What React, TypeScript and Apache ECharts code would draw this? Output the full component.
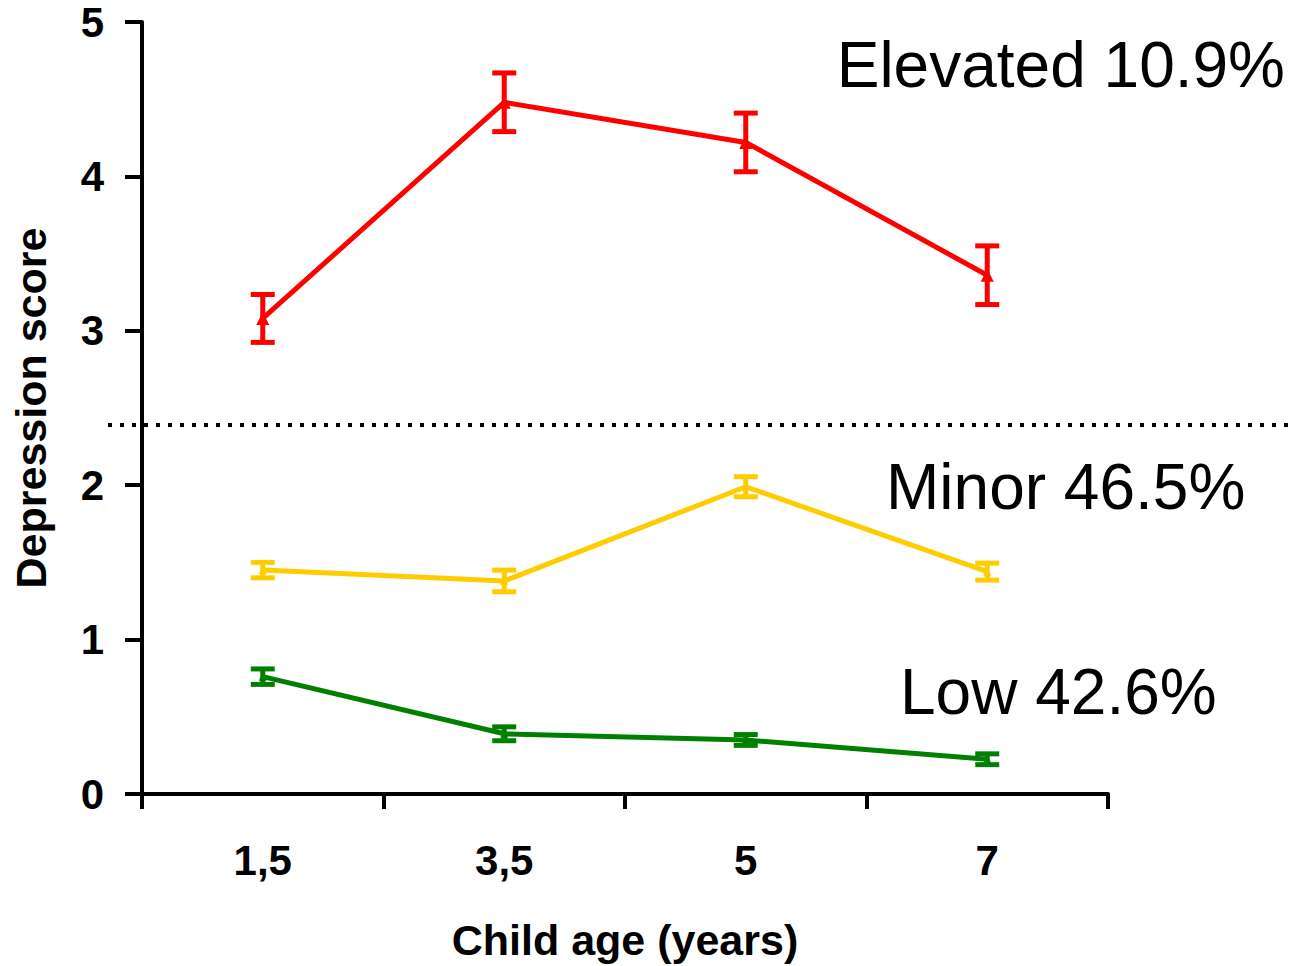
import React, { useEffect, useRef } from "react";
import * as echarts from "echarts";

const ages = ["1,5", "3,5", "5", "7"];
const elevated = [3.08, 4.48, 4.22, 3.36];
const elevatedErr = [0.155, 0.19, 0.19, 0.19];
const minor = [1.45, 1.38, 1.99, 1.44];
const minorErr = [0.05, 0.07, 0.065, 0.055];
const low = [0.76, 0.39, 0.35, 0.225];
const lowErr = [0.05, 0.045, 0.035, 0.035];
const cutoff = 2.39;
const yTicks = [0, 1, 2, 3, 4, 5];

const RED = "#ff0000";
const YELLOW = "#ffcc00";
const GREEN = "#008000";
const FONT = "Liberation Sans, Arial, sans-serif";

function errSeries(vals: number[], errs: number[], color: string) {
  return {
    type: "custom",
    z: 5,
    data: vals.map((v, i) => [i, v - errs[i], v + errs[i]]),
    renderItem: (params: any, api: any) => {
      const x = api.value(0);
      const lo = api.coord([x, api.value(1)]);
      const hi = api.coord([x, api.value(2)]);
      const hw = 12;
      const style = { stroke: color, lineWidth: 5 };
      return {
        type: "group",
        children: [
          { type: "line", shape: { x1: lo[0], y1: lo[1], x2: hi[0], y2: hi[1] }, style },
          { type: "line", shape: { x1: lo[0] - hw, y1: lo[1], x2: lo[0] + hw, y2: lo[1] }, style },
          { type: "line", shape: { x1: hi[0] - hw, y1: hi[1], x2: hi[0] + hw, y2: hi[1] }, style },
        ],
      };
    },
  };
}

function lineSeries(vals: number[], color: string, size: number) {
  return {
    type: "line",
    data: vals,
    symbol: "triangle",
    symbolSize: size,
    lineStyle: { color, width: 5 },
    itemStyle: { color },
    z: 4,
  };
}

export default function App() {
  const ref = useRef<HTMLDivElement>(null);
  useEffect(() => {
    document.body.style.margin = "0";
    const chart = echarts.init(ref.current!, null, { renderer: "svg" });
    const labelStyle = { fontFamily: FONT, fontWeight: "bold", fontSize: 42, color: "#000" };
    const option: any = {
      animation: false,
      grid: { left: 142, top: 22, right: 187, bottom: 171, containLabel: false },
      xAxis: {
        type: "category",
        data: ages,
        boundaryGap: true,
        axisLine: { lineStyle: { color: "#000", width: 4 } },
        axisTick: { show: true, length: 15, lineStyle: { color: "#000", width: 4 }, alignWithLabel: false },
        axisLabel: { ...labelStyle, margin: 45 },
        name: "Child age (years)",
        nameLocation: "middle",
        nameGap: 124,
        nameTextStyle: { ...labelStyle, fontSize: 43 },
      },
      yAxis: {
        type: "value",
        min: 0,
        max: 5,
        interval: 1,
        axisLine: { show: true, lineStyle: { color: "#000", width: 4 } },
        axisTick: { show: true, length: 17, lineStyle: { color: "#000", width: 4 } },
        splitLine: { show: false },
        axisLabel: {
          ...labelStyle,
          margin: 38,
          formatter: (v: number) => (yTicks.includes(v) ? String(v) : ""),
        },
        name: "Depression score",
        nameLocation: "middle",
        nameGap: 90,
        nameTextStyle: { ...labelStyle, fontSize: 43 },
      },
      series: [
        lineSeries(elevated, RED, 13),
        errSeries(elevated, elevatedErr, RED),
        lineSeries(minor, YELLOW, 8),
        errSeries(minor, minorErr, YELLOW),
        lineSeries(low, GREEN, 8),
        errSeries(low, lowErr, GREEN),
      ],
    };
    chart.setOption(option);
    const yCut = chart.convertToPixel({ yAxisIndex: 0 }, cutoff) as number;
    const textStyle = { fontFamily: FONT, fontSize: 64, fill: "#000" };
    chart.setOption({
      graphic: [
        {
          type: "line",
          shape: { x1: 108, y1: yCut, x2: 1295, y2: yCut },
          style: { stroke: "#000", lineWidth: 4, lineDash: [4, 8] },
          z: 1,
        },
        { type: "text", right: 10, top: 33, style: { ...textStyle, text: "Elevated 10.9%" } },
        { type: "text", left: 886, top: 455, style: { ...textStyle, text: "Minor 46.5%" } },
        { type: "text", left: 900, top: 660, style: { ...textStyle, text: "Low 42.6%" } },
      ],
    });
    return () => chart.dispose();
  }, []);
  return <div ref={ref} style={{ width: 1295, height: 966 }} />;
}
